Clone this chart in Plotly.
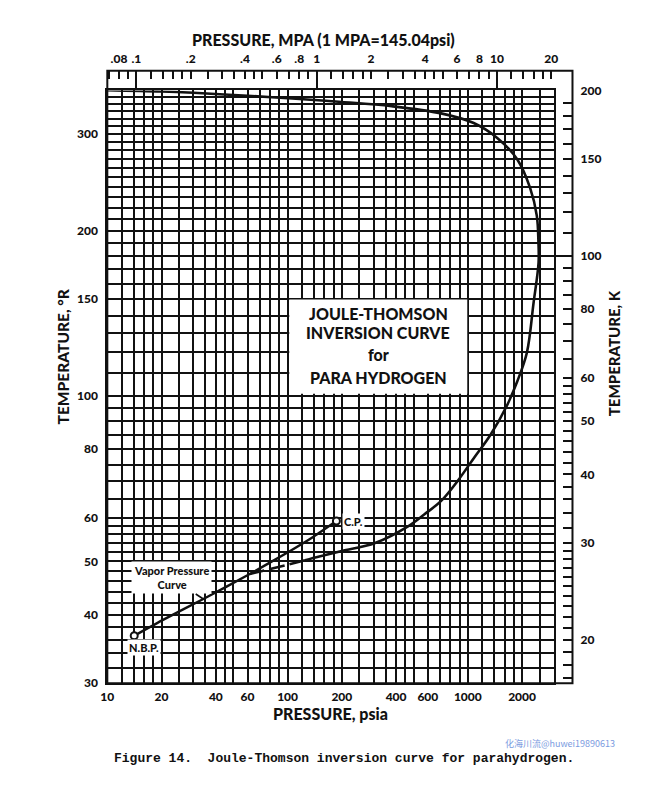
import math
import plotly.graph_objects as go

# Joule-Thomson inversion curve for para hydrogen
inv_psia = [10, 20, 30, 60, 106, 200, 378, 711, 1078, 1456, 1875, 2218, 2414,
            2466, 2470, 2312, 2128, 1875, 1652, 1337, 1084, 880, 711, 575, 466,
            306, 200, 150, 125]
inv_degR = [360.5, 358.5, 356.5, 352, 348, 343, 337, 327, 314, 295, 270, 239, 213,
            190, 175, 147, 120, 106, 96.2, 85, 77.2, 70.1, 64.4, 60.9, 57.9,
            54.0, 52.2, 51.0, 50.2]
# dashed tail of the inversion curve down to the vapour pressure curve
dash_psia = [125, 100, 80, 61.7]
dash_degR = [50.2, 49.3, 48.4, 47.4]

# vapour pressure curve, N.B.P. to C.P.
vp_psia = [14.1, 20, 34.1, 61.7, 100, 140, 186.7]
vp_degR = [36.6, 39.0, 42.7, 47.4, 51.9, 55.5, 59.2]
nbp_psia, nbp_degR = [14.1], [36.6]
cp_psia, cp_degR = [186.7], [59.2]

psia_labels = [10, 20, 40, 60, 100, 200, 400, 600, 1000, 2000]
degR_labels = [30, 40, 50, 60, 80, 100, 150, 200, 300]
mpa_labels = [0.08, 0.1, 0.2, 0.4, 0.6, 0.8, 1, 2, 4, 6, 8, 10, 20]
mpa_text = [".08", ".1", ".2", ".4", ".6", ".8", "1", "2", "4", "6", "8", "10", "20"]
kelvin_labels = [20, 30, 40, 50, 60, 80, 100, 150, 200]

PSI_PER_MPA = 145.04
P_MAX = 3000
T_MIN, T_MAX = 30, 360

W, H = 665, 804
FONT = "Lato"
INK = "#111111"


def px(x):
    return x / W


def py(y):
    return 1 - y / H


# graph-paper rulings
steps = [1, 1.2, 1.4, 1.6, 1.8, 2, 2.5, 3, 3.5, 4, 4.5, 5, 6, 7, 8, 9]
psia_grid = [round(f * 10 ** d, 3) for d in (1, 2, 3) for f in steps if f * 10 ** d <= P_MAX]
degR_grid = list(range(30, 60, 2)) + list(range(60, 100, 5)) + list(range(100, 361, 10))
mpa_minor = [round(f * 10 ** d, 4) for d in (-2, -1, 0, 1) for f in steps
             if 0.069 <= f * 10 ** d <= 20.5 and round(f * 10 ** d, 4) not in mpa_labels]
kelvin_minor = [k for k in list(range(17, 30)) + list(range(30, 60, 2))
                + list(range(60, 100, 5)) + list(range(100, 201, 10))
                if k not in kelvin_labels]


def label_text(grid, labels):
    return [str(v) if v in labels else "" for v in grid]


tickfont = dict(family=FONT, size=12, color=INK, weight=900)

fig = go.Figure()

fig.add_trace(go.Scatter(x=inv_psia, y=inv_degR, mode="lines",
                         line=dict(color=INK, width=2.6, shape="spline", smoothing=1.0)))
fig.add_trace(go.Scatter(x=dash_psia, y=dash_degR, mode="lines",
                         line=dict(color=INK, width=2.6, dash="16px,5px")))
fig.add_trace(go.Scatter(x=vp_psia, y=vp_degR, mode="lines",
                         line=dict(color=INK, width=2.4, shape="spline", smoothing=0.5)))
fig.add_trace(go.Scatter(x=nbp_psia + cp_psia, y=nbp_degR + cp_degR, mode="markers",
                         marker=dict(size=7, color="white", line=dict(color=INK, width=2))))
# empty traces so the side axes are drawn
fig.add_trace(go.Scatter(x=[], y=[], xaxis="x2", yaxis="y2"))
fig.add_trace(go.Scatter(x=[], y=[], xaxis="x3", yaxis="y2"))
fig.add_trace(go.Scatter(x=[], y=[], xaxis="x", yaxis="y3"))
fig.add_trace(go.Scatter(x=[], y=[], xaxis="x", yaxis="y4"))

mpa_range = [math.log10(10 / PSI_PER_MPA), math.log10(P_MAX / PSI_PER_MPA)]
k_range = [math.log10(T_MIN / 1.8), math.log10(T_MAX / 1.8)]

fig.update_layout(
    width=W, height=H,
    margin=dict(l=0, r=0, t=0, b=0),
    paper_bgcolor="white", plot_bgcolor="white",
    showlegend=False,
    xaxis=dict(
        domain=[px(102), px(556)], anchor="y", type="log",
        range=[1, math.log10(P_MAX)],
        tickmode="array", tickvals=psia_grid, ticktext=label_text(psia_grid, psia_labels),
        ticks="", tickfont=tickfont, ticklabelstandoff=1,
        showgrid=True, gridcolor=INK, gridwidth=1.5,
        showline=True, linecolor=INK, linewidth=2, mirror=True, zeroline=False,
    ),
    yaxis=dict(
        domain=[py(688), py(84)], anchor="x", type="log",
        range=[math.log10(T_MIN), math.log10(T_MAX)],
        tickmode="array", tickvals=degR_grid, ticktext=label_text(degR_grid, degR_labels),
        ticks="", tickfont=tickfont, ticklabelstandoff=5,
        showgrid=True, gridcolor=INK, gridwidth=1.5,
        showline=True, linecolor=INK, linewidth=2, mirror=True, zeroline=False,
    ),
    # MPa scale in the strip above the grid
    xaxis2=dict(
        domain=[px(102), px(556)], anchor="y2", side="top", type="log", range=mpa_range,
        tickmode="array", tickvals=mpa_labels, ticktext=mpa_text,
        ticks="inside", ticklen=8, tickwidth=1.6, tickcolor=INK, tickfont=tickfont,
        ticklabelstandoff=4,
        minor=dict(tickmode="array", tickvals=mpa_minor, ticks="inside", ticklen=8,
                   tickwidth=1.6, tickcolor=INK, showgrid=False),
        showgrid=False, showline=False, zeroline=False,
    ),
    xaxis3=dict(
        domain=[px(102), px(556)], anchor="y2", overlaying="x2", side="top", type="log",
        range=mpa_range, tickmode="array", tickvals=[0.1, 1, 10],
        ticks="inside", ticklen=19, tickwidth=1.8, tickcolor=INK,
        showticklabels=False, showgrid=False, showline=False, zeroline=False,
    ),
    yaxis2=dict(domain=[py(84), py(64)], anchor="x2", range=[0, 1], visible=False),
    # Kelvin scale at the right edge of the frame
    yaxis3=dict(
        overlaying="y", anchor="free", position=px(575), side="right", type="log",
        range=k_range, tickmode="array", tickvals=kelvin_labels,
        ticks="inside", ticklen=9, tickwidth=1.6, tickcolor=INK, tickfont=tickfont,
        ticklabelstandoff=7,
        minor=dict(tickmode="array", tickvals=kelvin_minor, ticks="inside", ticklen=9,
                   tickwidth=1.6, tickcolor=INK, showgrid=False),
        showgrid=False, showline=False, zeroline=False,
    ),
    yaxis4=dict(
        overlaying="y", anchor="free", position=px(575), side="right", type="log",
        range=k_range, tickmode="array", tickvals=[100],
        ticks="inside", ticklen=18, tickwidth=1.8, tickcolor=INK,
        showticklabels=False, showgrid=False, showline=False, zeroline=False,
    ),
)

# outer frame around grid, MPa strip and Kelvin strip
fig.add_shape(type="rect", xref="paper", yref="paper",
              x0=px(102), x1=px(575), y0=py(688), y1=py(64),
              line=dict(color=INK, width=2), layer="above")
# white panel for the title block
fig.add_shape(type="rect", xref="paper", yref="paper",
              x0=px(287), x1=px(468), y0=py(393), y1=py(297),
              fillcolor="white", line=dict(width=0), layer="above")


def note(x, y, text, font, **kw):
    fig.add_annotation(x=px(x), y=py(y), xref="paper", yref="paper", text=text,
                       showarrow=False, font=font, xanchor="center", yanchor="middle", **kw)


title_font = dict(family=FONT, size=16, color=INK, weight=900)
for text, y in [("JOULE-THOMSON", 311), ("INVERSION CURVE", 331),
                ("for", 353), ("PARA HYDROGEN", 377)]:
    note(377.5, y, text, title_font)

small = dict(family=FONT, size=11, color=INK, weight=900)
note(352, 523, "C.P.", small, bgcolor="white", borderpad=1)
note(139, 652, "N.B.P.", small, bgcolor="white", borderpad=1)
fig.add_annotation(x=math.log10(34.1), y=math.log10(42.7), xref="x", yref="y",
                   text="Vapor Pressure<br>Curve", showarrow=True, arrowhead=0,
                   arrowwidth=1.6, arrowcolor=INK, ax=-32, ay=-21,
                   font=small, bgcolor="white", borderpad=2, align="center")

axis_title = dict(family=FONT, size=16, color=INK, weight=900)
note(322, 32, "PRESSURE, MPA (1 MPA=145.04psi)", axis_title)
note(329, 719, "PRESSURE, psia", axis_title)
note(57, 355, "TEMPERATURE, °R", dict(axis_title, size=15.5), textangle=-90)
note(618, 352, "TEMPERATURE, K", dict(axis_title, size=15), textangle=-90)

note(562, 749, "化海川流@huwei19890613",
     dict(family="Noto Sans CJK SC", size=9, color="#7b9be0"))
note(343, 765, "Figure 14.  Joule-Thomson inversion curve for parahydrogen.",
     dict(family="Liberation Mono", size=13, color=INK, weight="bold"))

fig.write_html("out.html", config={"displayModeBar": False},
               post_script="document.body.style.margin = '0px';")
